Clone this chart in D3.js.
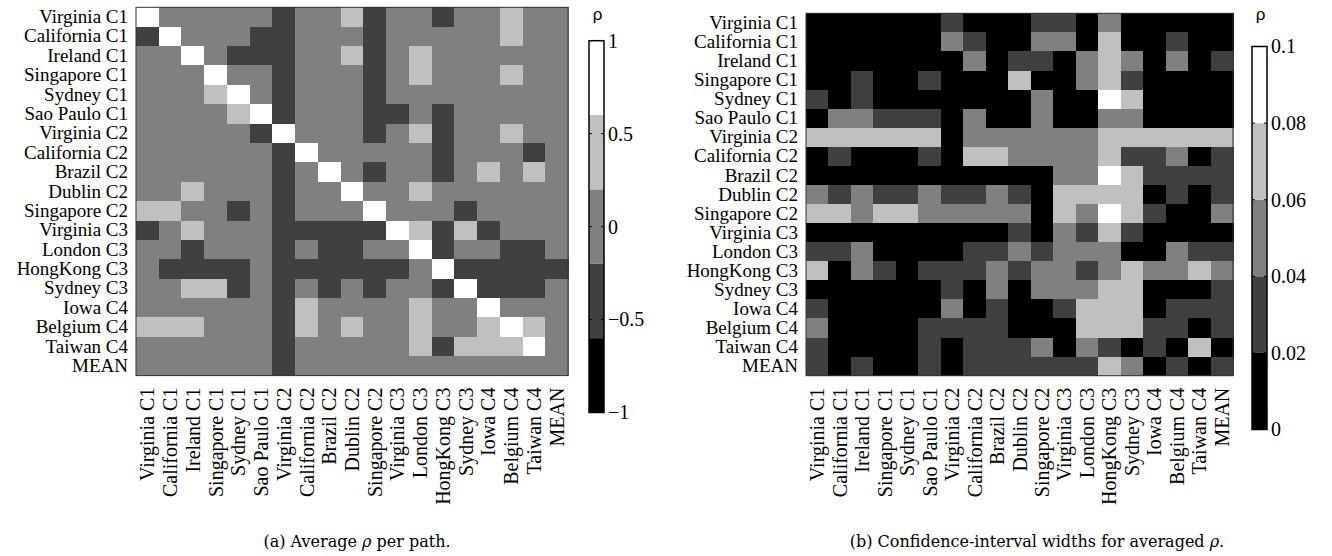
<!DOCTYPE html>
<html>
<head>
<meta charset="utf-8">
<script src="https://cdn.jsdelivr.net/npm/d3@7"></script>
<style>
  body { margin: 0; background: #fff; }
  svg text { font-family: "Liberation Serif", "Times New Roman", serif; fill: #000; }
</style>
</head>
<body>
<svg id="chart" width="1332" height="556"></svg>
<script>
// paths (rows and columns of both matrices)
const paths = ["Virginia C1", "California C1", "Ireland C1", "Singapore C1", "Sydney C1",
  "Sao Paulo C1", "Virginia C2", "California C2", "Brazil C2", "Dublin C2", "Singapore C2",
  "Virginia C3", "London C3", "HongKong C3", "Sydney C3", "Iowa C4", "Belgium C4",
  "Taiwan C4", "MEAN"];

const rhoTicks = [1, 0.5, 0, -0.5, -1];
const ciTicks = [0.1, 0.08, 0.06, 0.04, 0.02, 0];
const grays = ["#000000", "#404040", "#808080", "#c0c0c0", "#ffffff"];

// (a) average rho per path
const rhoMean = [
  [1, 0, 0, 0, 0, 0, -0.4, 0, 0, 0.4, -0.4, 0, 0, -0.4, 0, 0, 0.4, 0, 0],
  [-0.4, 1, 0, 0, 0, -0.4, -0.4, 0, 0, 0, -0.4, 0, 0, 0, 0, 0, 0.4, 0, 0],
  [0, 0, 1, 0, -0.4, -0.4, -0.4, 0, 0, 0.4, -0.4, 0, 0.4, 0, 0, 0, 0, 0, 0],
  [0, 0, 0, 1, 0, 0, -0.4, 0, 0, 0, -0.4, 0, 0.4, 0, 0, 0, 0.4, 0, 0],
  [0, 0, 0, 0.4, 1, 0, -0.4, 0, 0, 0, -0.4, 0, 0, 0, 0, 0, 0, 0, 0],
  [0, 0, 0, 0, 0.4, 1, -0.4, 0, 0, 0, -0.4, -0.4, 0, -0.4, 0, 0, 0, 0, 0],
  [0, 0, 0, 0, 0, -0.4, 1, 0, 0, 0, -0.4, 0, 0.4, -0.4, 0, 0, 0.4, 0, 0],
  [0, 0, 0, 0, 0, 0, -0.4, 1, 0, 0, 0, 0, 0, -0.4, 0, 0, 0, -0.4, 0],
  [0, 0, 0, 0, 0, 0, -0.4, 0, 1, 0, -0.4, 0, 0, -0.4, 0, 0.4, 0, 0.4, 0],
  [0, 0, 0.4, 0, 0, 0, -0.4, 0, 0, 1, 0, 0, 0.4, 0, 0, 0, 0, 0, 0],
  [0.4, 0.4, 0, 0, -0.4, 0, -0.4, 0, 0, 0, 1, 0, 0, 0, -0.4, 0, 0, 0, 0],
  [-0.4, 0, 0.4, 0, 0, 0, -0.4, -0.4, -0.4, -0.4, -0.4, 1, 0.4, -0.4, 0.4, -0.4, 0, 0, 0],
  [0, 0, -0.4, 0, 0, 0, -0.4, 0, -0.4, -0.4, 0, 0, 1, -0.4, 0, 0, -0.4, -0.4, 0],
  [0, -0.4, -0.4, -0.4, -0.4, 0, -0.4, -0.4, -0.4, -0.4, -0.4, -0.4, 0, 1, -0.4, -0.4, -0.4, -0.4, -0.4],
  [0, 0, 0.4, 0.4, -0.4, 0, -0.4, 0, -0.4, 0, -0.4, 0, 0, -0.4, 1, -0.4, -0.4, -0.4, 0],
  [0, 0, 0, 0, 0, 0, -0.4, 0.4, 0, 0, 0, 0, 0.4, 0, 0, 1, 0, 0, 0],
  [0.4, 0.4, 0.4, 0, 0, 0, -0.4, 0.4, 0, 0.4, 0, 0, 0.4, 0, 0, 0.4, 1, 0.4, 0],
  [0, 0, 0, 0, 0, 0, -0.4, 0, 0, 0, 0, 0, 0.4, -0.4, 0.4, 0.4, 0.4, 1, 0],
  [0, 0, 0, 0, 0, 0, -0.4, 0, 0, 0, 0, 0, 0, 0, 0, 0, 0, 0, 0]
];

// (b) confidence-interval widths for averaged rho
const ciWidth = [
  [0.01, 0.01, 0.01, 0.01, 0.01, 0.01, 0.03, 0.01, 0.01, 0.01, 0.03, 0.03, 0.01, 0.05, 0.01, 0.01, 0.01, 0.01, 0.01],
  [0.01, 0.01, 0.01, 0.01, 0.01, 0.01, 0.05, 0.03, 0.01, 0.01, 0.05, 0.05, 0.01, 0.07, 0.01, 0.01, 0.03, 0.01, 0.01],
  [0.01, 0.01, 0.01, 0.01, 0.01, 0.01, 0.01, 0.05, 0.01, 0.03, 0.03, 0.01, 0.05, 0.07, 0.05, 0.01, 0.05, 0.01, 0.03],
  [0.01, 0.01, 0.03, 0.01, 0.01, 0.03, 0.01, 0.01, 0.01, 0.07, 0.01, 0.01, 0.05, 0.07, 0.03, 0.01, 0.01, 0.01, 0.01],
  [0.03, 0.01, 0.03, 0.01, 0.01, 0.01, 0.01, 0.01, 0.01, 0.01, 0.05, 0.01, 0.01, 0.09, 0.07, 0.01, 0.01, 0.01, 0.01],
  [0.01, 0.05, 0.05, 0.03, 0.03, 0.03, 0.01, 0.05, 0.01, 0.01, 0.05, 0.01, 0.01, 0.05, 0.05, 0.01, 0.01, 0.01, 0.01],
  [0.07, 0.07, 0.07, 0.07, 0.07, 0.07, 0.01, 0.05, 0.05, 0.05, 0.05, 0.05, 0.05, 0.07, 0.07, 0.07, 0.07, 0.07, 0.07],
  [0.01, 0.03, 0.01, 0.01, 0.01, 0.03, 0.01, 0.07, 0.07, 0.05, 0.05, 0.05, 0.05, 0.07, 0.03, 0.03, 0.05, 0.01, 0.03],
  [0.01, 0.01, 0.01, 0.01, 0.01, 0.01, 0.01, 0.01, 0.01, 0.01, 0.01, 0.05, 0.05, 0.09, 0.07, 0.03, 0.03, 0.03, 0.03],
  [0.05, 0.03, 0.05, 0.03, 0.03, 0.05, 0.03, 0.03, 0.05, 0.03, 0.01, 0.07, 0.07, 0.07, 0.07, 0.01, 0.03, 0.01, 0.03],
  [0.07, 0.07, 0.05, 0.07, 0.07, 0.05, 0.05, 0.05, 0.05, 0.05, 0.01, 0.07, 0.05, 0.09, 0.07, 0.03, 0.01, 0.01, 0.05],
  [0.01, 0.01, 0.01, 0.01, 0.01, 0.01, 0.01, 0.01, 0.01, 0.03, 0.01, 0.05, 0.03, 0.07, 0.03, 0.01, 0.01, 0.01, 0.01],
  [0.03, 0.03, 0.05, 0.01, 0.01, 0.01, 0.01, 0.03, 0.03, 0.05, 0.03, 0.05, 0.05, 0.05, 0.01, 0.01, 0.05, 0.03, 0.03],
  [0.07, 0.01, 0.05, 0.03, 0.01, 0.03, 0.03, 0.03, 0.05, 0.03, 0.05, 0.05, 0.03, 0.05, 0.07, 0.05, 0.05, 0.07, 0.05],
  [0.01, 0.01, 0.01, 0.01, 0.01, 0.01, 0.03, 0.01, 0.05, 0.01, 0.05, 0.05, 0.05, 0.07, 0.07, 0.01, 0.01, 0.01, 0.03],
  [0.03, 0.01, 0.01, 0.01, 0.01, 0.01, 0.05, 0.01, 0.03, 0.01, 0.01, 0.03, 0.07, 0.07, 0.07, 0.01, 0.03, 0.03, 0.03],
  [0.05, 0.01, 0.01, 0.01, 0.01, 0.03, 0.03, 0.03, 0.03, 0.01, 0.01, 0.01, 0.07, 0.07, 0.07, 0.03, 0.03, 0.01, 0.03],
  [0.03, 0.01, 0.01, 0.01, 0.01, 0.03, 0.01, 0.03, 0.03, 0.03, 0.05, 0.01, 0.05, 0.03, 0.01, 0.03, 0.01, 0.07, 0.01],
  [0.03, 0.01, 0.03, 0.01, 0.01, 0.03, 0.01, 0.03, 0.03, 0.03, 0.03, 0.03, 0.03, 0.07, 0.05, 0.01, 0.03, 0.01, 0.03]
];

const svg = d3.select("#chart");
const labelSize = 19;

function fmt(v) { return String(v).replace("-", "\u2212"); }

function heatmap(box, data, color) {
  const g = svg.append("g");
  const x = d3.scaleBand().domain(paths).range([box.x0, box.x1]);
  const y = d3.scaleBand().domain(paths).range([box.y0, box.y1]);

  const cells = [];
  data.forEach((row, i) => row.forEach((v, j) => cells.push({i, j, v})));

  g.selectAll("rect.cell")
    .data(cells)
    .join("rect")
    .attr("class", "cell")
    .attr("x", d => x(paths[d.j]))
    .attr("y", d => y(paths[d.i]))
    .attr("width", x.bandwidth() + 0.6)
    .attr("height", y.bandwidth() + 0.6)
    .attr("fill", d => color(d.v))
    .attr("shape-rendering", "crispEdges");

  // frame
  g.append("rect")
    .attr("x", box.x0).attr("y", box.y0)
    .attr("width", box.x1 - box.x0).attr("height", box.y1 - box.y0)
    .attr("fill", "none").attr("stroke", "#333").attr("stroke-width", 1);

  const ya = g.append("g")
    .attr("transform", "translate(" + box.x0 + ",0)")
    .call(d3.axisLeft(y).tickSize(0).tickPadding(8));
  ya.select(".domain").remove();
  ya.selectAll("text").style("font-size", labelSize + "px")
    .style("font-family", "Liberation Serif");

  const xa = g.append("g")
    .attr("transform", "translate(0," + box.y1 + ")")
    .call(d3.axisBottom(x).tickSize(0));
  xa.select(".domain").remove();
  xa.selectAll("text")
    .attr("transform", "rotate(-90)")
    .attr("x", -12).attr("y", 0).attr("dy", "0.35em")
    .style("text-anchor", "end")
    .style("font-size", (labelSize + 1) + "px")
    .style("font-family", "Liberation Serif");
}

function colorbar(bar, color, ticks) {
  const g = svg.append("g");
  const dom = color.domain();
  const s = d3.scaleLinear().domain(dom).range([bar.y1, bar.y0]);
  const edges = [dom[0]].concat(color.thresholds(), [dom[1]]);
  const bins = d3.pairs(edges);

  g.selectAll("rect.bin")
    .data(bins)
    .join("rect")
    .attr("x", bar.x0)
    .attr("y", d => s(d[1]))
    .attr("width", bar.x1 - bar.x0)
    .attr("height", d => s(d[0]) - s(d[1]))
    .attr("fill", d => color((d[0] + d[1]) / 2));

  // small inner ticks on both sides
  g.selectAll("line.tl")
    .data(ticks)
    .join("line")
    .attr("x1", bar.x0).attr("x2", bar.x0 + 3)
    .attr("y1", d => s(d)).attr("y2", d => s(d))
    .attr("stroke", "#000").attr("stroke-width", 1);
  g.selectAll("line.tr")
    .data(ticks)
    .join("line")
    .attr("x1", bar.x1 - 3).attr("x2", bar.x1)
    .attr("y1", d => s(d)).attr("y2", d => s(d))
    .attr("stroke", "#000").attr("stroke-width", 1);

  g.append("rect")
    .attr("x", bar.x0).attr("y", bar.y0)
    .attr("width", bar.x1 - bar.x0).attr("height", bar.y1 - bar.y0)
    .attr("fill", "none").attr("stroke", "#000").attr("stroke-width", 1.5);

  const ax = g.append("g")
    .attr("transform", "translate(" + bar.x1 + ",0)")
    .call(d3.axisRight(s).tickValues(ticks).tickFormat(fmt).tickSize(0).tickPadding(4));
  ax.select(".domain").remove();
  ax.selectAll("text").style("font-size", "20px")
    .style("font-family", "Liberation Serif");

  g.append("text")
    .attr("x", (bar.x0 + bar.x1) / 2 + 1)
    .attr("y", 20)
    .attr("text-anchor", "middle")
    .style("font-family", "Liberation Sans")
    .style("font-size", "17px")
    .text("\u03c1");
}

const rhoColor = d3.scaleQuantize().domain([-1, 1]).range(grays);
const ciColor = d3.scaleQuantize().domain([0, 0.1]).range(grays);

heatmap({x0: 136, x1: 568, y0: 7.3, y1: 375.6}, rhoMean, rhoColor);
heatmap({x0: 806, x1: 1233, y0: 13.3, y1: 375.7}, ciWidth, ciColor);

colorbar({x0: 589, x1: 604, y0: 40.7, y1: 412.5}, rhoColor, rhoTicks);
colorbar({x0: 1252, x1: 1267, y0: 46.5, y1: 429.5}, ciColor, ciTicks);

// sub-captions
function caption(cx, parts) {
  const t = svg.append("text")
    .attr("x", cx).attr("y", 547)
    .attr("text-anchor", "middle")
    .style("font-family", "DejaVu Serif")
    .style("font-size", "16px");
  parts.forEach(p => {
    t.append("tspan").text(p[0]).style("font-style", p[1] ? "italic" : "normal");
  });
}
caption(357, [["(a)  Average ", false], ["\u03c1", true], [" per path.", false]]);
caption(1037, [["(b)  Confidence-interval widths for averaged ", false], ["\u03c1", true], [".", false]]);
</script>
</body>
</html>
